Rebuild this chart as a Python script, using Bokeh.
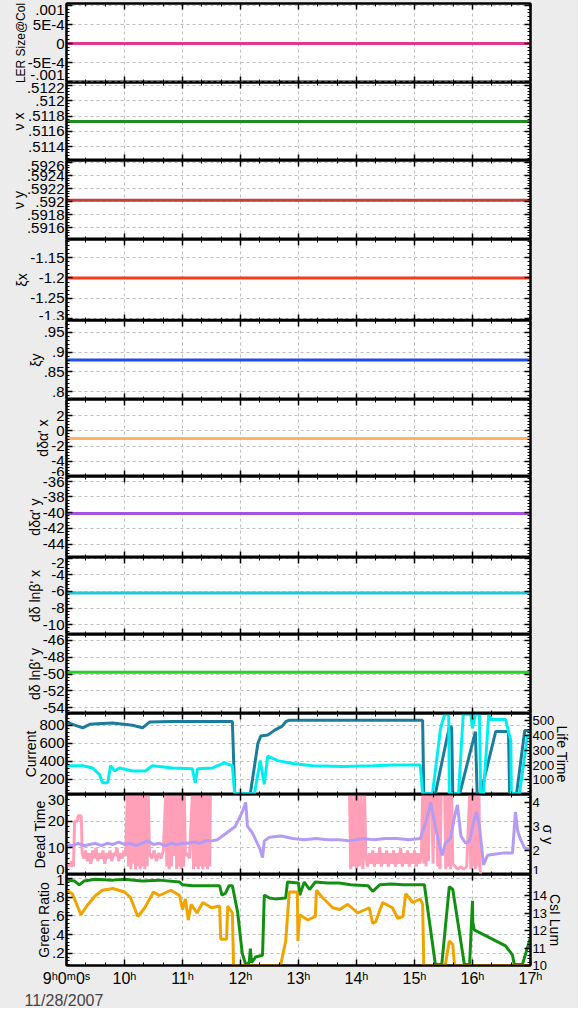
from bokeh.plotting import figure
from bokeh.layouts import column
from bokeh.models import Range1d, LinearAxis, FixedTicker, Title, CustomLabelingPolicy
from bokeh.embed import file_html
from bokeh.resources import INLINE
import numpy as np

# ---------------- data ----------------
hours = [9, 10, 11, 12, 13, 14, 15, 16, 17]
hour_labels = ["9\u02b00\u1d500\u02e2", "10\u02b0", "11\u02b0", "12\u02b0", "13\u02b0",
               "14\u02b0", "15\u02b0", "16\u02b0", "17\u02b0"]
date_label = "11/28/2007"

span_t = [9.0, 17.0]
ler_v = [0.0, 0.0]
nux_v = [0.51173, 0.51173]
nuy_v = [0.59202, 0.59202]
xix_v = [-1.2, -1.2]
xiy_v = [0.88, 0.88]
dax_v = [-1.0, -1.0]
day_v = [-40.1, -40.1]
dbx_v = [-6.2, -6.2]
dby_v = [-49.8, -49.8]

cur_t = [9.00, 9.14, 9.28, 9.40, 9.53, 9.79, 10.14, 10.31, 10.43, 10.83, 11.17, 11.86, 11.90,
         12.17, 12.30, 12.35, 12.47, 12.59, 12.72, 12.78, 12.84, 15.14, 15.16, 15.36, 15.60,
         15.64, 15.66, 15.78, 16.05, 16.08, 16.14, 16.40, 16.62, 16.64, 16.76, 16.90, 17.00]
cur_v = [835, 800, 770, 810, 815, 825, 800, 770, 835, 840, 840, 840, 40,
         40, 600, 680, 690, 745, 790, 840, 855, 855, 40, 40, 780,
         780, 40, 40, 730, 40, 40, 730, 730, 40, 40, 740, 740]

life_t = [9.00, 9.28, 9.45, 9.57, 9.62, 9.71, 9.76, 9.83, 9.91, 10.14, 10.36, 10.48, 10.83,
          11.17, 11.22, 11.26, 11.52, 11.72, 11.86, 11.90, 12.24, 12.34, 12.41, 12.47, 12.64,
          12.90, 13.24, 13.76, 14.28, 14.62, 15.10, 15.14, 15.31, 15.45, 15.52, 15.59, 15.60,
          15.66, 15.76, 15.84, 15.97, 16.00, 16.05, 16.12, 16.14, 16.19, 16.28, 16.31, 16.57,
          16.66, 16.67, 16.81, 16.95, 17.00]
life_v = [195, 195, 180, 135, 80, 80, 195, 160, 180, 160, 160, 195, 180,
          175, 80, 175, 180, 215, 195, 5, 5, 230, 70, 260, 230,
          210, 195, 190, 195, 200, 200, 5, 5, 450, 545, 545, 5,
          5, 5, 545, 545, 450, 545, 545, 5, 5, 545, 510, 510,
          365, 5, 5, 405, 400]

dead_t = [9.00, 9.03, 9.06, 9.09, 9.12, 9.14, 9.19, 9.20, 9.25, 9.26, 9.27,
          9.30, 9.33, 9.36, 9.39, 9.42, 9.45, 9.48, 9.51, 9.54, 9.57, 9.60, 9.63, 9.66, 9.69,
          9.72, 9.75, 9.78, 9.81, 9.84, 9.87, 9.90, 9.93, 9.96, 9.99, 10.02,
          10.05, 10.07, 10.09, 10.11, 10.13, 10.15, 10.17, 10.19, 10.21, 10.23, 10.25, 10.27,
          10.29, 10.31, 10.33, 10.35, 10.37, 10.39, 10.41, 10.43,
          10.47, 10.51, 10.55, 10.59, 10.63, 10.67,
          10.71, 10.73, 10.75, 10.77, 10.79, 10.81, 10.83, 10.85,
          10.88, 10.90, 10.92, 10.94, 10.96, 10.98, 11.00, 11.02, 11.03, 11.05, 11.08, 11.12,
          11.17, 11.19, 11.21, 11.23, 11.25, 11.27, 11.29, 11.31, 11.33, 11.35, 11.37, 11.39,
          11.41, 11.43, 11.45, 11.47, 11.48, 13.88,
          13.90, 13.92, 13.95, 13.98, 14.00, 14.02, 14.05, 14.08, 14.11, 14.14, 14.16,
          14.19, 14.22, 14.25, 14.28, 14.31, 14.34, 14.37, 14.40, 14.43, 14.46, 14.49, 14.52,
          14.55, 14.58, 14.61, 14.64, 14.67, 14.70, 14.73, 14.76, 14.79, 14.82, 14.85, 14.88,
          14.91, 14.94, 14.97, 15.00, 15.03, 15.06, 15.09,
          15.12, 15.14, 15.16, 15.18, 15.20, 15.22, 15.24, 15.26, 15.30, 15.32, 15.34, 15.38,
          15.40, 15.42, 15.44, 15.46, 15.52, 15.54, 15.56, 15.58, 15.60, 15.62, 15.64, 15.66,
          15.70, 15.75, 15.80, 15.85, 15.90, 15.95, 15.97, 15.99, 16.01, 16.03, 16.05, 16.07,
          16.09, 16.11, 16.13, 16.14]
dead_v = [3, 4, 3, 5, 3, 20, 20, 22, 22, 18, 8,
          6, 9, 5, 8, 4, 9, 6, 10, 5, 8, 6, 9, 4, 8,
          6, 9, 5, 8, 7, 10, 5, 8, 6, 9, 7,
          30, 3, 30, 2, 30, 4, 30, 2, 30, 3, 30, 2,
          30, 3, 30, 2, 30, 3, 30, 8,
          6, 9, 5, 8, 6, 9,
          30, 3, 30, 2, 30, 3, 30, 7,
          30, 2, 30, 3, 30, 2, 30, 3, 30, 7, 8, 6,
          30, 2, 30, 3, 30, 2, 30, 3, 30, 2, 30, 3,
          30, 2, 30, 3, 30, 30,
          2, 30, 3, 30, 2, 30, 3, 30, 2, 30, 7,
          3, 8, 4, 9, 3, 8, 4, 10, 3, 8, 4, 9,
          3, 8, 4, 9, 3, 8, 4, 10, 3, 8, 4, 9,
          3, 8, 4, 9, 3, 8, 4,
          8, 30, 4, 30, 3, 30, 5, 30, 30, 4, 30, 30,
          3, 30, 2, 30, 30, 2, 30, 3, 30, 2, 30, 4,
          3, 2, 3, 2, 3, 30, 2, 30, 3, 30, 2, 30,
          3, 30, 2, 0]

sig_t = [9.00, 9.1, 9.2, 9.3, 9.4, 9.5, 9.6, 9.7, 9.8, 9.9, 10.0, 10.1, 10.2, 10.3, 10.4,
         10.5, 10.6, 10.7, 10.8, 10.9, 11.0, 11.1, 11.2, 11.3, 11.4, 11.5, 11.6, 11.69, 11.8,
         11.91, 12.03, 12.09, 12.12, 12.2, 12.33, 12.38, 12.41, 12.5, 12.7, 12.9, 13.1, 13.3,
         13.5, 13.7, 13.88, 14.1, 14.3, 14.5, 14.7, 14.9, 15.10, 15.2, 15.28, 15.36, 15.42,
         15.48, 15.53, 15.62, 15.69, 15.74, 15.80, 15.88, 15.95, 16.02, 16.07, 16.12, 16.19,
         16.26, 16.4, 16.55, 16.69, 16.74, 16.78, 16.83, 16.9, 17.0]
sig_v = [2.25, 2.2, 2.3, 2.2, 2.25, 2.3, 2.2, 2.3, 2.25, 2.35, 2.25, 2.3, 2.2, 2.3, 2.4,
         2.25, 2.3, 2.2, 2.3, 2.25, 2.3, 2.3, 2.35, 2.3, 2.4, 2.4, 2.45, 2.6, 2.8,
         3.0, 3.6, 4.0, 3.0, 2.75, 2.1, 1.7, 2.4, 2.55, 2.6, 2.5, 2.45, 2.5,
         2.45, 2.45, 2.4, 2.5, 2.45, 2.5, 2.5, 2.45, 2.5, 3.2, 4.0, 3.0, 2.3,
         1.8, 2.3, 2.5, 3.4, 3.9, 2.6, 2.3, 2.4, 3.2, 3.6, 3.0, 1.4,
         1.8, 1.85, 1.9, 1.9, 3.6, 2.8, 2.45, 2.1, 2.05]

gr_t = [9.00, 9.14, 9.22, 9.30, 9.50, 9.80, 10.00, 10.30, 10.60, 10.95, 11.00, 11.17, 11.40,
        11.64, 11.68, 11.74, 11.80, 11.86, 11.95, 12.03, 12.09, 12.15, 12.17, 12.19, 12.26,
        12.38, 12.41, 12.50, 12.60, 12.78, 12.81, 13.00, 13.02, 13.10, 13.19, 13.29, 13.50,
        13.70, 13.90, 14.20, 14.28, 14.40, 14.60, 14.80, 15.17, 15.36, 15.47, 15.60, 15.66,
        15.86, 15.95, 16.00, 16.005, 16.03, 16.57, 16.69, 16.72, 16.86, 17.00]
gr_v = [0.98, 0.97, 0.93, 0.97, 0.99, 0.98, 0.99, 0.97, 0.98, 0.96, 0.93, 0.92, 0.92,
        0.92, 0.82, 0.84, 0.92, 0.92, 0.64, 0.20, 0.08, 0.10, 0.25, 0.10, 0.16,
        0.18, 0.82, 0.79, 0.78, 0.79, 0.96, 0.95, 0.82, 0.96, 0.88, 0.96, 0.95,
        0.95, 0.93, 0.92, 0.86, 0.93, 0.94, 0.93, 0.93, 0.08, 0.08, 0.91, 0.88,
        0.08, 0.08, 0.76, 0.53, 0.45, 0.28, 0.18, 0.08, 0.08, 0.37]

csi_t = [9.00, 9.10, 9.25, 9.35, 9.50, 9.62, 9.80, 10.00, 10.10, 10.23, 10.35, 10.50, 10.60,
         10.80, 10.95, 11.00, 11.05, 11.10, 11.15, 11.25, 11.35, 11.50, 11.64, 11.66, 11.76,
         11.78, 11.86, 11.88, 12.69, 12.78, 12.84, 12.98, 12.99, 13.02, 13.16, 13.29, 13.31,
         13.38, 13.50, 13.59, 13.71, 13.85, 14.02, 14.22, 14.28, 14.33, 14.45, 14.62, 14.71,
         14.80, 14.85, 14.97, 15.10, 15.14, 15.16, 15.53, 15.60, 15.66, 15.69, 17.00]
csi_v = [14.3, 14.1, 12.9, 13.4, 14.0, 14.3, 14.4, 14.2, 13.9, 12.8, 13.3, 14.2, 14.0,
         14.3, 14.0, 13.2, 13.8, 12.6, 13.5, 13.0, 13.6, 13.3, 13.4, 11.5, 11.5,
         13.4, 13.0, 10.0, 10.0, 11.4, 14.2, 14.2, 11.4, 12.9, 12.6, 12.8, 14.3,
         14.0, 13.6, 13.3, 13.2, 13.5, 13.0, 13.3, 12.4, 12.5, 13.6, 13.3, 12.7,
         12.8, 14.1, 13.6, 13.8, 13.5, 10.0, 10.0, 11.4, 11.2, 10.0, 10.0]

# ---------------- style ----------------
FONT = "Liberation Sans"
GRID = "#bdbdbd"
BG = "#ececec"
xr = Range1d(9, 17)
minor_x = [9 + k / 3 for k in range(25)]
W = 578
LB, RB = 66, 48


def ticks_with_minor(major, nsub=5):
    step = abs(major[1] - major[0])
    lo, hi = min(major) - step, max(major) + step
    mn = list(np.arange(lo, hi + step / (2 * nsub), step / nsub))
    return FixedTicker(ticks=major, minor_ticks=mn)


def hide_policy():
    return CustomLabelingPolicy(
        code="for (let i = 0; i < indices.size; i++) { indices.unset(i) }\nreturn indices")


def style_axis(ax, show_labels, fs="15px"):
    ax.axis_line_width = 2
    ax.axis_line_color = "black"
    ax.major_tick_in = 6
    ax.major_tick_out = 0
    ax.minor_tick_in = 3
    ax.minor_tick_out = 0
    ax.major_tick_line_width = 1.5
    ax.minor_tick_line_width = 1
    ax.major_label_text_font = FONT
    ax.axis_label_text_font = FONT
    ax.axis_label_text_font_style = "normal"
    ax.axis_label_text_color = "black"
    ax.major_label_text_color = "black"
    if show_labels:
        ax.major_label_text_font_size = fs
        ax.major_label_standoff = 2
    else:
        ax.major_label_text_font_size = "0px"
        ax.major_label_standoff = 0
        ax.major_label_policy = hide_policy()
        ax.axis_label = None


panels = [
    dict(label="LER Size@Col", lfs="12px", yr=(-0.00103, 0.00105),
         ticks=[-0.001, -0.0005, 0.0, 0.0005, 0.001],
         tl=["-.001", "-5E-4", "0", "5E-4", ".001"], series=[(span_t, ler_v, "#e0388a")], h=79),
    dict(label="\u03bd x", yr=(0.51122, 0.51224), ticks=[0.5114, 0.5116, 0.5118, 0.512, 0.5122],
         tl=[".5114", ".5116", ".5118", ".512", ".5122"], series=[(span_t, nux_v, "#1e8c1e")], h=78),
    dict(label="\u03bd y", yr=(0.59142, 0.59263), ticks=[0.5916, 0.5918, 0.592, 0.5922, 0.5924, 0.5926],
         tl=[".5916", ".5918", ".592", ".5922", ".5924", ".5926"], series=[(span_t, nuy_v, "#c4403c")], h=79),
    dict(label="\u03bex", yr=(-1.305, -1.105), ticks=[-1.3, -1.25, -1.2, -1.15],
         tl=["-1.3", "-1.25", "-1.2", "-1.15"], series=[(span_t, xix_v, "#f23c1e")], h=81),
    dict(label="\u03bey", yr=(0.78, 0.98), ticks=[0.8, 0.85, 0.9, 0.95],
         tl=[".8", ".85", ".9", ".95"], series=[(span_t, xiy_v, "#1e4ef0")], h=79),
    dict(label="d\u03b4\u03b1' x", yr=(-6.0, 4.1), ticks=[-6, -4, -2, 0, 2],
         tl=["-6", "-4", "-2", "0", "2"], series=[(span_t, dax_v, "#ffb264")], h=77),
    dict(label="d\u03b4\u03b1' y", yr=(-45.7, -35.4), ticks=[-44, -42, -40, -38, -36],
         tl=["-44", "-42", "-40", "-38", "-36"], series=[(span_t, day_v, "#a452e0")], h=81),
    dict(label="d\u03b4 ln\u03b2' x", yr=(-11.2, -1.9), ticks=[-10, -8, -6, -4, -2],
         tl=["-10", "-8", "-6", "-4", "-2"], series=[(span_t, dbx_v, "#22c8d8")], h=77),
    dict(label="d\u03b4 ln\u03b2' y", yr=(-54.7, -45.3), ticks=[-54, -52, -50, -48, -46],
         tl=["-54", "-52", "-50", "-48", "-46"], series=[(span_t, dby_v, "#22d422")], h=79),
    dict(label="Current", yr=(30, 930), ticks=[200, 400, 600, 800],
         tl=["200", "400", "600", "800"], series=[(cur_t, cur_v, "#1b7c9c")], h=81,
         right=dict(label="Life Time", yr=(0, 550), ticks=[100, 200, 300, 400, 500],
                    tl=["100", "200", "300", "400", "500"], series=[(life_t, life_v, "#00eef0")])),
    dict(label="Dead Time", yr=(0, 30), ticks=[0, 10, 20, 30],
         tl=["0", "10", "20", "30"], series=[(dead_t, dead_v, "#ff9fb8")], h=80,
         right=dict(label="\u03c3 y", yr=(1, 4.33), ticks=[1, 2, 3, 4],
                    tl=["1", "2", "3", "4"], series=[(sig_t, sig_v, "#b49cf4")])),
    dict(label="Green Ratio", yr=(0.07, 1.04), ticks=[0.2, 0.4, 0.6, 0.8, 1.0],
         tl=[".2", ".4", ".6", ".8", "1"], series=[(gr_t, gr_v, "#129012")], h=91,
         right=dict(label="CsI Lum", yr=(10, 15.2), ticks=[10, 11, 12, 13, 14],
                    tl=["10", "11", "12", "13", "14"], series=[(csi_t, csi_v, "#f0a400")])),
]

figs = []
n = len(panels)
for i, pd_ in enumerate(panels):
    last = i == n - 1
    first = i == 0
    bt = 3 if first else 0
    bb = 43 if last else 0
    p = figure(width=W, height=pd_["h"] + bt + bb, x_range=xr,
               y_range=Range1d(*pd_["yr"]), output_backend="svg", toolbar_location=None,
               min_border_left=LB, min_border_right=RB,
               min_border_top=bt, min_border_bottom=bb,
               background_fill_color="white", border_fill_color=BG,
               outline_line_color="black", outline_line_width=2)
    p.xaxis.ticker = FixedTicker(ticks=hours, minor_ticks=minor_x)
    p.xgrid.ticker = FixedTicker(ticks=hours)
    p.yaxis.ticker = ticks_with_minor(pd_["ticks"])
    p.ygrid.ticker = FixedTicker(ticks=pd_["ticks"])
    for g in (p.xgrid, p.ygrid):
        g.grid_line_color = GRID
        g.grid_line_dash = "3 3"
        g.grid_line_width = 1
    p.yaxis.major_label_overrides = dict(zip(pd_["ticks"], pd_["tl"]))
    p.yaxis.axis_label = pd_["label"]
    for ax in p.yaxis:
        style_axis(ax, True)
        ax.axis_label_text_font_size = pd_.get("lfs", "14px")
        ax.axis_label_standoff = -3
    for ax in p.xaxis:
        style_axis(ax, last, "16px")
        if last:
            ax.major_label_overrides = dict(zip(hours, hour_labels))
            ax.major_label_standoff = 4
    top = LinearAxis(ticker=FixedTicker(ticks=hours, minor_ticks=minor_x))
    style_axis(top, False)
    p.add_layout(top, "above")

    if "right" in pd_:
        r = pd_["right"]
        p.extra_y_ranges = {"r": Range1d(*r["yr"])}
        rax = LinearAxis(y_range_name="r", ticker=ticks_with_minor(r["ticks"]))
        style_axis(rax, True, "13px")
        rax.major_label_overrides = dict(zip(r["ticks"], r["tl"]))
        rax.major_label_standoff = 2
        rax.axis_label = r["label"]
        rax.axis_label_text_font_size = "14px"
        rax.axis_label_standoff = -3
        p.add_layout(rax, "right")
    else:
        rax = LinearAxis(ticker=ticks_with_minor(pd_["ticks"]))
        style_axis(rax, False)
        p.add_layout(rax, "right")

    for (t, v, c) in pd_["series"]:
        p.line(t, v, line_color=c, line_width=3)
    if "right" in pd_:
        for (t, v, c) in pd_["right"]["series"]:
            p.line(t, v, line_color=c, line_width=3, y_range_name="r")

    if last:
        t = Title(text=date_label, align="left", offset=-42, text_font=FONT,
                  text_font_size="16px", text_font_style="normal", standoff=0)
        p.add_layout(t, "below")
    figs.append(p)

layout = column(*figs, spacing=0, background=BG)
html = file_html(layout, INLINE, "chart")
html = html.replace("<body>", '<body style="background:#ececec;overflow:hidden">', 1)
open("out.html", "w").write(html)
